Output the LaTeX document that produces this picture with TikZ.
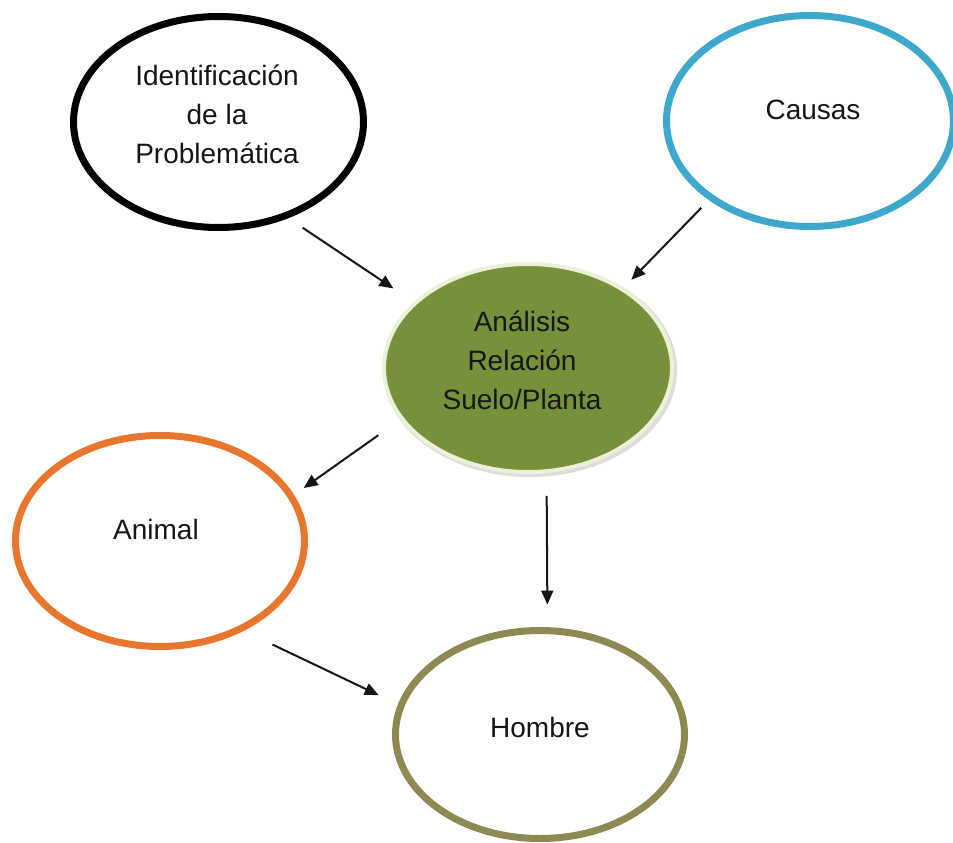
\documentclass[tikz,border=0pt]{standalone}
\usepackage{fontspec}
\setmainfont{Liberation Sans}
\usetikzlibrary{arrows.meta,shapes.geometric}

\definecolor{inkblack}{RGB}{22,22,22}
\definecolor{causeblue}{RGB}{62,168,204}
\definecolor{animalorange}{RGB}{233,118,46}
\definecolor{manolive}{RGB}{142,137,82}
\definecolor{soilgreen}{RGB}{117,145,58}
\definecolor{soilrim}{RGB}{236,240,214}

\begin{document}
\begin{tikzpicture}[x=1pt,y=-1pt,
  oval/.style={ellipse, draw, fill=white, line width=7pt, inner sep=0pt,
               minimum width=#1},
  caption/.style={align=center, inner sep=0pt, text=inkblack,
                  font=\fontsize{28}{39}\selectfont},
  arr/.style={line width=2pt, draw=inkblack,
              -{Triangle[length=14pt,width=12pt]}}]

\useasboundingbox[fill=white] (0,0) rectangle (953,843);

% shadow under the central ellipse
\fill[gray!45, opacity=0.6] (530,370) ellipse [x radius=147, y radius=107];

% ellipses
\node[oval=290pt, minimum height=211pt, draw=black]      (ident)    at (218.5,122) {};
\node[oval=287pt, minimum height=211pt, draw=causeblue]  (causas)   at (810,121)   {};
\node[ellipse, draw=soilrim, fill=soilgreen, line width=4pt, inner sep=0pt,
      minimum width=288pt, minimum height=208pt]         (analisis) at (528,368)   {};
\node[oval=289pt, minimum height=211pt, draw=animalorange] (animal) at (160,541)   {};
\node[oval=289pt, minimum height=208pt, draw=manolive]   (hombre)   at (540,734.5) {};

% texts
\node[caption] (identtxt)    at (217,114) {Identificación\\de la\\Problemática};
\node[caption] (causastxt)   at (813,110) {Causas};
\node[caption] (analisistxt) at (522,360) {Análisis\\Relación\\Suelo/Planta};
\node[caption] (animaltxt)   at (156,529) {Animal};
\node[caption] (hombretxt)   at (540,727) {Hombre};

% connectors
\draw[arr, shorten <=17.1pt, shorten >=24.5pt] (ident.-54.25)   -- (analisis.150.78);
\draw[arr, shorten <=10.9pt, shorten >=11.3pt] (causas.-142.68) -- (analisis.40.27);
\draw[arr, shorten <=27pt,   shorten >=11.8pt] (analisis.-158.99) -- (animal.19.44);
\draw[arr, shorten <=22.8pt, shorten >=22.6pt] (analisis.-80.2) -- (hombre.86.8);
\draw[arr, shorten <=31.8pt, shorten >=21.3pt] (animal.-47.15)  -- (hombre.168.88);

\end{tikzpicture}
\end{document}
